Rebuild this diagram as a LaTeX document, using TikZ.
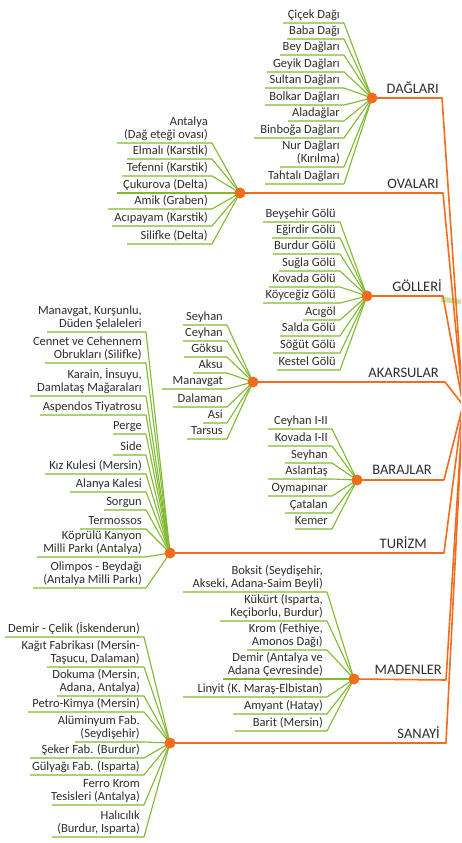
\documentclass[tikz,border=0pt]{standalone}
\usepackage{fontspec}
\setmainfont{Carlito}
\definecolor{lg}{RGB}{128,186,48}
\definecolor{orng}{RGB}{242,108,30}
\definecolor{tx}{RGB}{45,45,45}
\definecolor{palegreen}{RGB}{205,225,160}
\tikzset{
 kidtext/.style={font=\fontsize{12.5}{13}\selectfont, text=tx, align=right, inner sep=0pt, anchor=south east},
 kidline/.style={draw=lg, line width=1.1pt, line join=round},
 mainline/.style={draw=orng, line width=1.6pt, line join=round},
 hub/.style={circle, fill=orng, minimum size=11pt, inner sep=0pt},
 hublabel/.style={font=\fontsize{14.5}{16}\selectfont, text=tx, anchor=base east, inner sep=0pt},
}
\newcommand\kid[6]{%
  \node[kidtext] (#1) at (#3,#4-0.5) {#6\strut};
  \coordinate (#1l) at (#5,#4);
  \coordinate (#1r) at (#3+4,#4);
  \draw[kidline] (#1l) -- (#1r) -- (#2.center);
}
\begin{document}
\begin{tikzpicture}[x=1pt,y=-1pt]
\useasboundingbox (0,0) rectangle (461,843);
\clip (0,0) rectangle (461,843);
\fill[white] (0,0) rectangle (461,843);
% hubs (positions)
\coordinate (D) at (372,98);
\coordinate (O) at (240,193);
\coordinate (G) at (367,296);
\coordinate (A) at (253,382);
\coordinate (B) at (357,480);
\coordinate (T) at (170,553);
\coordinate (M) at (354,679);
\coordinate (S) at (170,743);
% DAGLARI
\kid{d1}{D}{340}{23}{283}{Çiçek Dağı}
\kid{d2}{D}{340}{39}{287}{Baba Dağı}
\kid{d3}{D}{340}{55}{280}{Bey Dağları}
\kid{d4}{D}{340}{72}{267}{Geyik Dağları}
\kid{d5}{D}{340}{88}{265}{Sultan Dağları}
\kid{d6}{D}{340}{105}{265}{Bolkar Dağları}
\kid{d7}{D}{340}{121}{288}{Aladağlar}
\kid{d8}{D}{340}{138}{254}{Binboğa Dağları}
\kid{d9}{D}{340}{167}{280}{Nur Dağları\\(Kırılma)}
\kid{d10}{D}{340}{184}{265}{Tahtalı Dağları}
% OVALARI
\kid{o1}{O}{208}{143}{117}{Antalya\\(Dağ eteği ovası)}
\kid{o2}{O}{208}{159}{127}{Elmalı (Karstik)}
\kid{o3}{O}{208}{176}{122}{Tefenni (Karstik)}
\kid{o4}{O}{208}{193}{117}{Çukurova (Delta)}
\kid{o5}{O}{208}{209}{108}{Amik (Graben)}
\kid{o6}{O}{208}{226}{112}{Acıpayam (Karstik)}
\kid{o7}{O}{208}{244}{127}{Silifke (Delta)}
% GOLLERI
\kid{g1}{G}{336}{222}{263}{Beyşehir Gölü}
\kid{g2}{G}{336}{238}{272}{Eğirdir Gölü}
\kid{g3}{G}{336}{254}{273}{Burdur Gölü}
\kid{g4}{G}{336}{271}{279}{Suğla Gölü}
\kid{g5}{G}{336}{287}{269}{Kovada Gölü}
\kid{g6}{G}{336}{303}{263}{Köyceğiz Gölü}
\kid{g7}{G}{336}{320}{303}{Acıgöl}
\kid{g8}{G}{336}{336}{280}{Salda Gölü}
\kid{g9}{G}{336}{353}{273}{Söğüt Gölü}
\kid{g10}{G}{336}{370}{277}{Kestel Gölü}
% AKARSULAR
\kid{a1}{A}{223}{325}{183}{Seyhan}
\kid{a2}{A}{223}{341}{183}{Ceyhan}
\kid{a3}{A}{223}{357}{184}{Göksu}
\kid{a4}{A}{223}{373}{193}{Aksu}
\kid{a5}{A}{223}{389}{162}{Manavgat}
\kid{a6}{A}{223}{407}{173}{Dalaman}
\kid{a7}{A}{223}{423}{203}{Asi}
\kid{a8}{A}{223}{439}{187}{Tarsus}
% BARAJLAR
\kid{b1}{B}{328}{429}{268}{Ceyhan I-II}
\kid{b2}{B}{328}{446}{268}{Kovada I-II}
\kid{b3}{B}{328}{463}{285}{Seyhan}
\kid{b4}{B}{328}{479}{268}{Aslantaş}
\kid{b5}{B}{328}{496}{268}{Oymapınar}
\kid{b6}{B}{328}{513}{285}{Çatalan}
\kid{b7}{B}{328}{529}{295}{Kemer}
% TURIZM
\kid{t1}{T}{142}{332}{47}{Manavgat, Kurşunlu,\\Düden Şelaleleri}
\kid{t2}{T}{142}{363}{45}{Cennet ve Cehennem\\Obrukları (Silifke)}
\kid{t3}{T}{142}{396}{30}{Karain, İnsuyu,\\Damlataş Mağaraları}
\kid{t4}{T}{142}{415}{40}{Aspendos Tiyatrosu}
\kid{t5}{T}{142}{434}{113}{Perge}
\kid{t6}{T}{142}{455}{113}{Side}
\kid{t7}{T}{142}{474}{45}{Kız Kulesi (Mersin)}
\kid{t8}{T}{142}{492}{70}{Alanya Kalesi}
\kid{t9}{T}{142}{510}{104}{Sorgun}
\kid{t10}{T}{142}{529}{80}{Termossos}
\kid{t11}{T}{142}{557}{37}{Köprülü Kanyon\\Milli Parkı (Antalya)}
\kid{t12}{T}{142}{588}{33}{Olimpos - Beydağı\\(Antalya Milli Parkı)}
% MADENLER
\kid{m1}{M}{323}{592}{183}{Boksit (Seydişehir,\\Akseki, Adana-Saim Beyli)}
\kid{m2}{M}{323}{621}{220}{Kükürt (Isparta,\\Keçiborlu, Burdur)}
\kid{m3}{M}{323}{650}{247}{Krom (Fethiye,\\Amonos Dağı)}
\kid{m4}{M}{323}{679}{223}{Demir (Antalya ve\\Adana Çevresinde)}
\kid{m5}{M}{323}{697}{183}{Linyit (K. Maraş-Elbistan)}
\kid{m6}{M}{323}{714}{233}{Amyant (Hatay)}
\kid{m7}{M}{323}{731}{235}{Barit (Mersin)}
% SANAYI
\kid{s1}{S}{140}{637}{5}{Demir - Çelik (İskenderun)}
\kid{s2}{S}{140}{667}{47}{Kağıt Fabrikası (Mersin-\\Taşucu, Dalaman)}
\kid{s3}{S}{140}{696}{57}{Dokuma (Mersin,\\Adana, Antalya)}
\kid{s4}{S}{140}{712}{28}{Petro-Kimya (Mersin)}
\kid{s5}{S}{140}{742}{75}{Alüminyum Fab.\\(Seydişehir)}
\kid{s6}{S}{140}{758}{30}{Şeker Fab. (Burdur)}
\kid{s7}{S}{140}{775}{30}{Gülyağı Fab. (Isparta)}
\kid{s8}{S}{140}{805}{52}{Ferro Krom\\Tesisleri (Antalya)}
\kid{s9}{S}{140}{837}{52}{Halıcılık\\(Burdur, Isparta)}
% faint band
\draw[palegreen, line width=5pt] (441,299) -- (461,302);
% trunk lines
\coordinate (conv) at (463,405);
\coordinate (Db) at (442,98);
\coordinate (Ob) at (443,193);
\coordinate (Gb) at (443,296);
\coordinate (Ab) at (445,382);
\coordinate (Bb) at (444,480);
\coordinate (Tb) at (444,553);
\coordinate (Mb) at (446,680);
\coordinate (Sb) at (446,743);
\foreach \h in {D,O,G,A,B,T,M,S}{
  \draw[mainline] (\h) -- (\h b) -- (conv);
}
% hub dots
\foreach \h in {D,O,G,A,B,T,M,S}{
  \node[hub] (\h dot) at (\h) {};
}
% hub labels
\node[hublabel] (Dlab) at (439,93) {DAĞLARI};
\node[hublabel] (Olab) at (439,188) {OVALARI};
\node[hublabel] (Glab) at (442,291) {GÖLLERİ};
\node[hublabel] (Alab) at (439,377) {AKARSULAR};
\node[hublabel] (Blab) at (432,474) {BARAJLAR};
\node[hublabel] (Tlab) at (427,548) {TURİZM};
\node[hublabel] (Mlab) at (442,674) {MADENLER};
\node[hublabel] (Slab) at (440,738) {SANAYİ};
\end{tikzpicture}
\end{document}
